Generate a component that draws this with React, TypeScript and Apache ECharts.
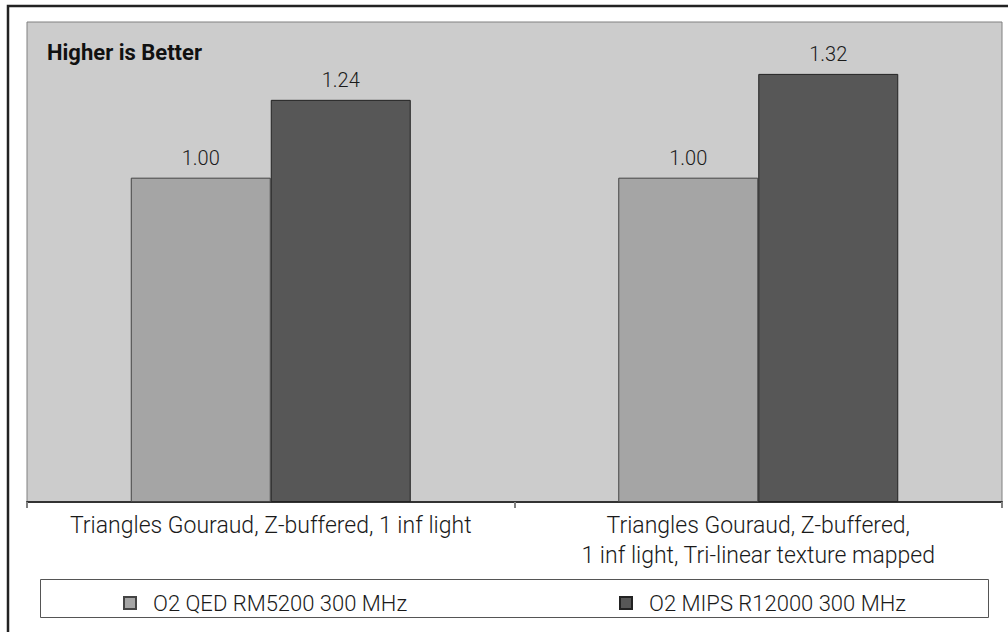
import React, { useEffect, useRef } from "react";
import * as echarts from "echarts";

const categories = [
  "Triangles Gouraud, Z-buffered, 1 inf light",
  "Triangles Gouraud, Z-buffered,\n1 inf light, Tri-linear texture mapped",
];
const seriesNames = ["O2 QED RM5200 300 MHz", "O2 MIPS R12000 300 MHz"];
const qedValues = [1.0, 1.0];
const mipsValues = [1.24, 1.32];
const titleText = "Higher is Better";

const FONT = "Roboto, 'Open Sans', sans-serif";

export default function App() {
  const ref = useRef<HTMLDivElement>(null);
  useEffect(() => {
    if (!ref.current) return;
    const chart = echarts.init(ref.current, undefined, { renderer: "svg" });
    const labelCfg = {
      show: true,
      position: "top",
      distance: 10,
      fontSize: 20,
      fontWeight: 300,
      fontFamily: FONT,
      color: "#1a1a1a",
      formatter: (p: any) => Number(p.value).toFixed(2),
    };
    const legendText = {
      fontSize: 22,
      fontWeight: 300,
      fontFamily: FONT,
      color: "#1a1a1a",
      padding: [0, 0, 0, 12],
    };
    chart.setOption({
      animation: false,
      backgroundColor: "#ffffff",
      title: {
        text: titleText,
        left: 47,
        top: 41,
        padding: 0,
        textStyle: { fontSize: 22, fontWeight: "bold", fontFamily: FONT, color: "#111" },
      },
      graphic: [
        {
          type: "rect",
          shape: { x: 8, y: 6, width: 1010, height: 640 },
          style: { fill: "none", stroke: "#222", lineWidth: 2.5 },
          silent: true,
        },
        {
          type: "rect",
          shape: { x: 40.5, y: 579.5, width: 948, height: 38 },
          style: { fill: "#fff", stroke: "#555", lineWidth: 1 },
          silent: true,
          z: 0,
        },
      ],
      legend: [
        {
          data: [seriesNames[0]],
          left: 123,
          top: 592,
          padding: 0,
          itemWidth: 12,
          itemHeight: 12,
          icon: "rect",
          textStyle: legendText,
          z: 5,
        },
        {
          data: [seriesNames[1]],
          left: 619,
          top: 592,
          padding: 0,
          itemWidth: 12,
          itemHeight: 12,
          icon: "rect",
          textStyle: legendText,
          z: 5,
        },
      ],
      grid: {
        left: 27,
        right: 6,
        top: 22,
        bottom: 130,
        show: true,
        backgroundColor: "#cccccc",
        borderColor: "#808080",
        borderWidth: 1,
      },
      xAxis: {
        type: "category",
        data: categories,
        axisLine: { show: true, lineStyle: { color: "#333", width: 2 } },
        axisTick: { show: true, length: 6, lineStyle: { color: "#808080", width: 2 } },
        axisLabel: {
          fontSize: 23,
          fontWeight: 300,
          fontFamily: FONT,
          color: "#1a1a1a",
          lineHeight: 30,
          margin: 8,
          interval: 0,
        },
      },
      yAxis: {
        type: "value",
        min: 0,
        max: 1.48,
        show: false,
        splitLine: { show: false },
      },
      series: [
        {
          name: seriesNames[0],
          type: "bar",
          data: qedValues,
          barWidth: 140,
          barGap: "0%",
          itemStyle: { color: "#a5a5a5", borderColor: "#444", borderWidth: 1 },
          label: labelCfg,
        },
        {
          name: seriesNames[1],
          type: "bar",
          data: mipsValues,
          barWidth: 140,
          barGap: "0%",
          itemStyle: { color: "#575757", borderColor: "#222", borderWidth: 1 },
          label: labelCfg,
        },
      ],
    });
    return () => chart.dispose();
  }, []);
  return (
    <div
      ref={ref}
      style={{ position: "absolute", left: 0, top: 0, width: 1008, height: 632 }}
    />
  );
}
